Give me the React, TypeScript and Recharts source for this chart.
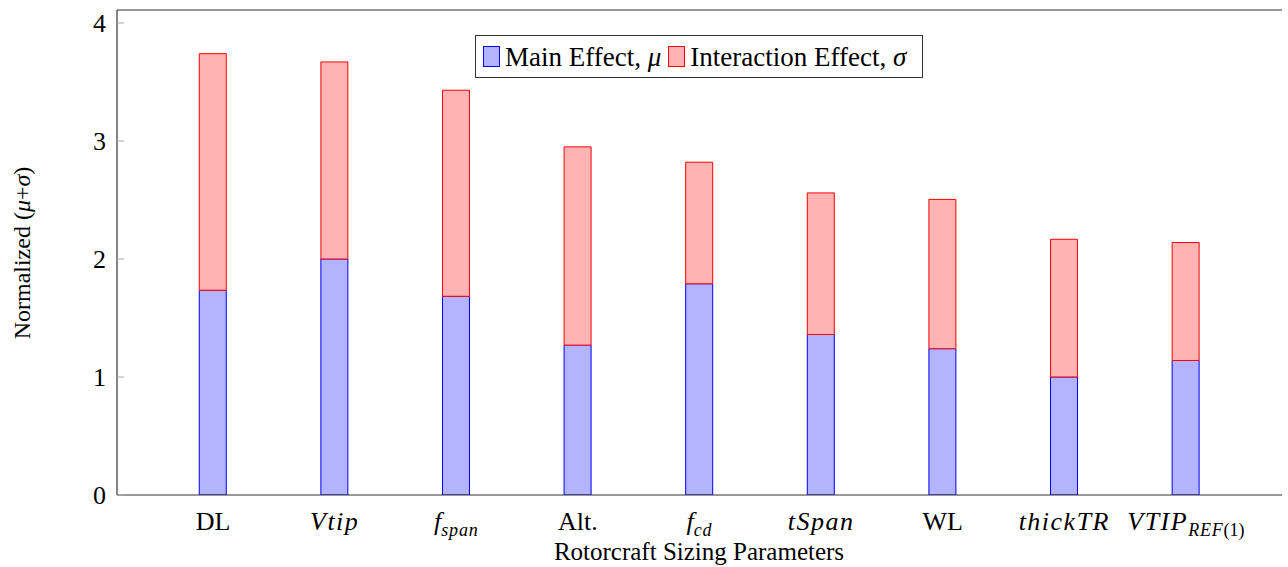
import React from 'react';
import { BarChart, Bar, XAxis, YAxis, Legend, ReferenceLine, Label } from 'recharts';

// ---- data ----
const categories = ['DL', 'Vtip', 'f_span', 'Alt.', 'f_cd', 'tSpan', 'WL', 'thickTR', 'VTIP_REF(1)'];
const mainEffect = [1.735, 2.0, 1.684, 1.27, 1.79, 1.36, 1.24, 1.0, 1.14];
const interactionEffect = [2.005, 1.67, 1.746, 1.68, 1.03, 1.2, 1.265, 1.167, 1.0];
const yTicks = [0, 1, 2, 3, 4];
// tick label pieces: t = text, it = italic (math), sub = subscript
const tickLabels = [
  [{ t: 'DL' }],
  [{ t: 'Vtip', it: true }],
  [{ t: 'f', it: true }, { t: 'span', it: true, sub: true }],
  [{ t: 'Alt.' }],
  [{ t: 'f', it: true }, { t: 'cd', it: true, sub: true }],
  [{ t: 'tSpan', it: true }],
  [{ t: 'WL' }],
  [{ t: 'thickTR', it: true }],
  [{ t: 'VTIP', it: true }, { t: 'REF', it: true, sub: true }, { t: '(1)', sub: true }],
];

const data = categories.map((c, i) => ({ idx: i, name: c, main: mainEffect[i], inter: interactionEffect[i] }));

const FONT = "'Liberation Serif', serif";
const FS = 26;
const SUB = 18;
const AXIS = '#333333';
const TICK = '#a8a8a8';
const BLUE_FILL = '#b3b3ff';
const RED_FILL = '#ffb3b3';

const XTick = (props: any) => {
  const { x, y, payload } = props;
  const parts = tickLabels[payload.value] || [];
  let inSub = false;
  return (
    <text x={x} y={y + 35} textAnchor="middle" style={{ fontFamily: FONT }} fontSize={FS} fill="#000">
      {parts.map((p: any, k: number) => {
        let dy = 0;
        if (p.sub && !inSub) dy = 6;
        if (!p.sub && inSub) dy = -6;
        inSub = !!p.sub;
        const multi = p.it && p.t.length > 1;
        return (
          <tspan
            key={k}
            dy={dy}
            fontStyle={p.it ? 'italic' : 'normal'}
            fontSize={p.sub ? SUB : FS}
            letterSpacing={multi ? (p.sub ? 0.8 : 1.5) : 0}
          >
            {p.t}
          </tspan>
        );
      })}
    </text>
  );
};

const YTickLeft = (props: any) => {
  const { x, y, payload } = props;
  return (
    <g>
      <line x1={x} x2={x + 7} y1={y} y2={y} stroke={TICK} strokeWidth={1} />
      <text x={x - 11} y={y + 9} textAnchor="end" style={{ fontFamily: FONT }} fontSize={FS} fill="#000">
        {payload.value}
      </text>
    </g>
  );
};

const YTickRight = (props: any) => {
  const { x, y } = props;
  return <line x1={x - 7} x2={x} y1={y} y2={y} stroke={TICK} strokeWidth={1} />;
};

const LegendContent = () => (
  <div
    style={{
      boxSizing: 'border-box',
      width: '100%',
      height: '100%',
      border: `1px solid ${AXIS}`,
      background: '#fff',
      display: 'flex',
      alignItems: 'center',
      paddingLeft: 7,
      fontFamily: FONT,
      fontSize: 27,
      lineHeight: '30px',
      color: '#000',
      whiteSpace: 'nowrap',
    }}
  >
    <span style={{ display: 'inline-block', flex: 'none', width: 17, height: 21, background: BLUE_FILL, border: '1px solid #0000ff', boxSizing: 'border-box', marginRight: 5 }} />
    <span>Main Effect, <i>μ</i></span>
    <span style={{ display: 'inline-block', flex: 'none', width: 17, height: 21, background: RED_FILL, border: '1px solid #ff0000', boxSizing: 'border-box', marginLeft: 7, marginRight: 5 }} />
    <span>Interaction Effect, <i>σ</i></span>
  </div>
);

export default function App() {
  return (
    <div style={{ position: 'absolute', left: 0, top: 0, width: 1288, height: 567, background: '#fff' }}>
      <BarChart width={1288} height={567} data={data} margin={{ top: 10, right: 6, bottom: 0, left: 0 }}>
        <XAxis
          dataKey="idx"
          type="number"
          domain={[-0.79, 8.79]}
          ticks={[0, 1, 2, 3, 4, 5, 6, 7, 8]}
          interval={0}
          allowDataOverflow
          height={72}
          tickLine={false}
          tickSize={0}
          tickMargin={0}
          axisLine={{ stroke: AXIS, strokeWidth: 1.2 }}
          tick={<XTick />}
        >
          <Label
            content={() => (
              <text x={699} y={560} textAnchor="middle" style={{ fontFamily: FONT }} fontSize={25} fill="#000">
                Rotorcraft Sizing Parameters
              </text>
            )}
          />
        </XAxis>
        <YAxis
          yAxisId="left"
          orientation="left"
          type="number"
          domain={[0, 4.11]}
          ticks={yTicks}
          allowDataOverflow
          width={117}
          tickLine={false}
          tickSize={0}
          tickMargin={0}
          axisLine={{ stroke: AXIS, strokeWidth: 1.2 }}
          tick={<YTickLeft />}
        >
          <Label
            content={() => (
              <text
                x={30}
                y={253}
                transform="rotate(-90 30 253)"
                textAnchor="middle"
                style={{ fontFamily: FONT }}
                fontSize={24}
                fill="#000"
              >
                Normalized (<tspan fontStyle="italic">μ</tspan>+<tspan fontStyle="italic">σ</tspan>)
              </text>
            )}
          />
        </YAxis>
        <YAxis
          yAxisId="right"
          orientation="right"
          type="number"
          domain={[0, 4.11]}
          ticks={yTicks}
          allowDataOverflow
          width={0}
          tickLine={false}
          tickSize={0}
          tickMargin={0}
          axisLine={{ stroke: '#111', strokeWidth: 1.2 }}
          tick={<YTickRight />}
        />
        <ReferenceLine yAxisId="left" y={4.11} stroke={AXIS} strokeWidth={1.2} />
        <Bar yAxisId="left" dataKey="main" stackId="s" fill={BLUE_FILL} stroke="#0000ff" strokeWidth={1} barSize={27} isAnimationActive={false} />
        <Bar yAxisId="left" dataKey="inter" stackId="s" fill={RED_FILL} stroke="#ff0000" strokeWidth={1} barSize={27} isAnimationActive={false} />
        <Legend
          layout="horizontal"
          verticalAlign="middle"
          align="center"
          content={<LegendContent />}
          wrapperStyle={{ left: 475, top: 35, width: 448, height: 43 }}
        />
      </BarChart>
    </div>
  );
}
